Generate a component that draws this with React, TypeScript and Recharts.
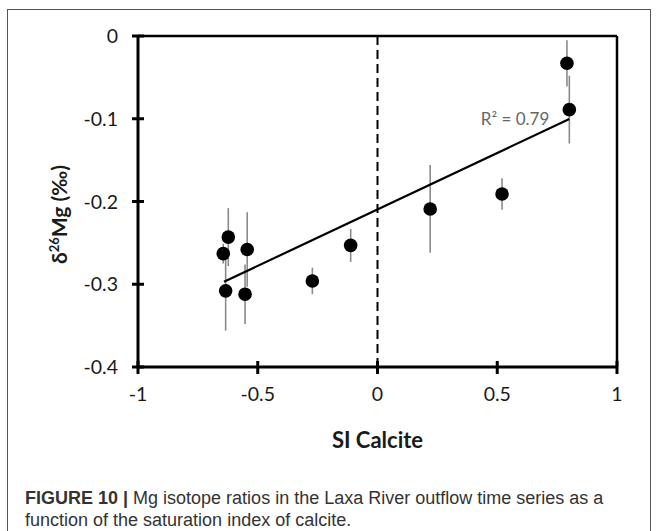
import React from 'react';
import {
  ScatterChart, Scatter, XAxis, YAxis, ErrorBar, ReferenceLine, ReferenceDot, Label,
} from 'recharts';

// SI Calcite (x) vs δ26Mg (y) with 2SD errors
const siCalcite = [-0.644, -0.623, -0.634, -0.544, -0.553, -0.272, -0.112, 0.22, 0.52, 0.791, 0.801];
const d26Mg = [-0.263, -0.243, -0.308, -0.258, -0.312, -0.296, -0.253, -0.209, -0.191, -0.033, -0.089];
const errMg = [0.012, 0.035, 0.048, 0.045, 0.036, 0.016, 0.02, 0.053, 0.019, 0.028, 0.041];

// linear regression line end points
const trendX = [-0.641, 0.801];
const trendY = [-0.297, -0.1003];
const r2Label = 'R² = 0.79';

const xTicks = [-1, -0.5, 0, 0.5, 1];
const yTicks = [0, -0.1, -0.2, -0.3, -0.4];

const points = siCalcite.map((x, i) => ({ x, y: d26Mg[i], err: errMg[i] }));
const trend = trendX.map((x, i) => ({ x, y: trendY[i] }));

const FONT = 'Lato, "Noto Sans", sans-serif';

const XTick = (props: any) => {
  const { x, y, payload } = props;
  return (
    <g>
      <line x1={x} x2={x} y1={y - 6} y2={y + 7} stroke="#000" strokeWidth={3} />
      <text x={x} y={y + 34} textAnchor="middle" fontSize={19.5} fill="#1a1a1a" fontFamily={FONT}>
        {String(payload.value)}
      </text>
    </g>
  );
};

const YTick = (props: any) => {
  const { x, y, payload } = props;
  return (
    <g>
      <line x1={x - 6} x2={x + 6} y1={y} y2={y} stroke="#000" strokeWidth={3} />
      <text x={x - 20} y={y + 7} textAnchor="end" fontSize={19.5} fill="#1a1a1a" fontFamily={FONT}>
        {String(payload.value)}
      </text>
    </g>
  );
};

const XLabel = (props: any) => {
  const vb = props.viewBox;
  return (
    <text x={vb.x + vb.width / 2} y={vb.y + 81} textAnchor="middle" fontSize={22} fontWeight={700}
      fill="#1a1a1a" fontFamily={FONT}>SI Calcite</text>
  );
};

const YLabel = (props: any) => {
  const vb = props.viewBox;
  const cx = 67;
  const cy = vb.y + vb.height / 2 + 13;
  return (
    <text x={cx} y={cy} transform={`rotate(-90 ${cx} ${cy})`} textAnchor="middle" fontSize={21}
      fontWeight={700} fill="#1a1a1a" fontFamily={FONT}>
      <tspan>δ</tspan>
      <tspan dy={-8} fontSize={13}>26</tspan>
      <tspan dy={8}>Mg (‰)</tspan>
    </text>
  );
};

const Dot = (props: any) => {
  const { cx, cy } = props;
  return <circle cx={cx} cy={cy} r={6.8} fill="#000" />;
};

export default function App() {
  return (
    <div style={{ position: 'absolute', left: 0, top: 0, width: 657, height: 531, background: '#fff', overflow: 'hidden' }}>
      <div style={{
        position: 'absolute', left: 7, top: 9, width: 642, height: 540,
        borderTop: '1.5px solid #555', borderLeft: '1.5px solid #555', borderRight: '1.5px solid #555',
      }} />
      <div style={{ position: 'absolute', left: 0, top: 0 }}>
        <ScatterChart width={657} height={531} margin={{ top: 36, right: 40, bottom: 104, left: 0 }}>
          <XAxis type="number" dataKey="x" domain={[-1, 1]} ticks={xTicks} interval={0}
            axisLine={{ stroke: '#000', strokeWidth: 3 }} tickLine={false} tickSize={0} tickMargin={0}
            height={60} tick={<XTick />} allowDataOverflow>
            <Label content={<XLabel />} />
          </XAxis>
          <YAxis type="number" dataKey="y" domain={[-0.4, 0]} ticks={yTicks} interval={0}
            axisLine={{ stroke: '#000', strokeWidth: 3 }} tickLine={false} tickSize={0} tickMargin={0}
            width={138} tick={<YTick />} allowDataOverflow>
            <Label content={<YLabel />} />
          </YAxis>
          <ReferenceLine y={0} stroke="#000" strokeWidth={2.5} />
          <ReferenceLine x={1} stroke="#000" strokeWidth={2.5} />
          <ReferenceLine x={0} stroke="#000" strokeWidth={2} strokeDasharray="9 5" />
          <Scatter data={points} isAnimationActive={false} shape={<Dot />}>
            <ErrorBar dataKey="err" direction="y" width={0} stroke="#8a8a8a" strokeWidth={1.6} isAnimationActive={false} />
          </Scatter>
          <Scatter data={trend} isAnimationActive={false} line={{ stroke: '#000', strokeWidth: 2.2 }}
            shape={() => <g />} />
          <ReferenceDot x={trendX[1]} y={trendY[1]} r={0} stroke="none" fill="none"
            label={{ value: r2Label, position: 'left', offset: 20, fill: '#666', fontSize: 17, fontFamily: FONT }} />
        </ScatterChart>
      </div>
      <div style={{
        position: 'absolute', left: 25, top: 487, width: 630, fontFamily: '"Liberation Sans", Arial, sans-serif',
        fontSize: 18, lineHeight: '22px', color: '#333',
      }}>
        <div style={{ whiteSpace: 'nowrap' }}><b>FIGURE 10 | </b>Mg isotope ratios in the Laxa River outflow time series as a</div>
        <div style={{ whiteSpace: 'nowrap' }}>function of the saturation index of calcite.</div>
      </div>
    </div>
  );
}
